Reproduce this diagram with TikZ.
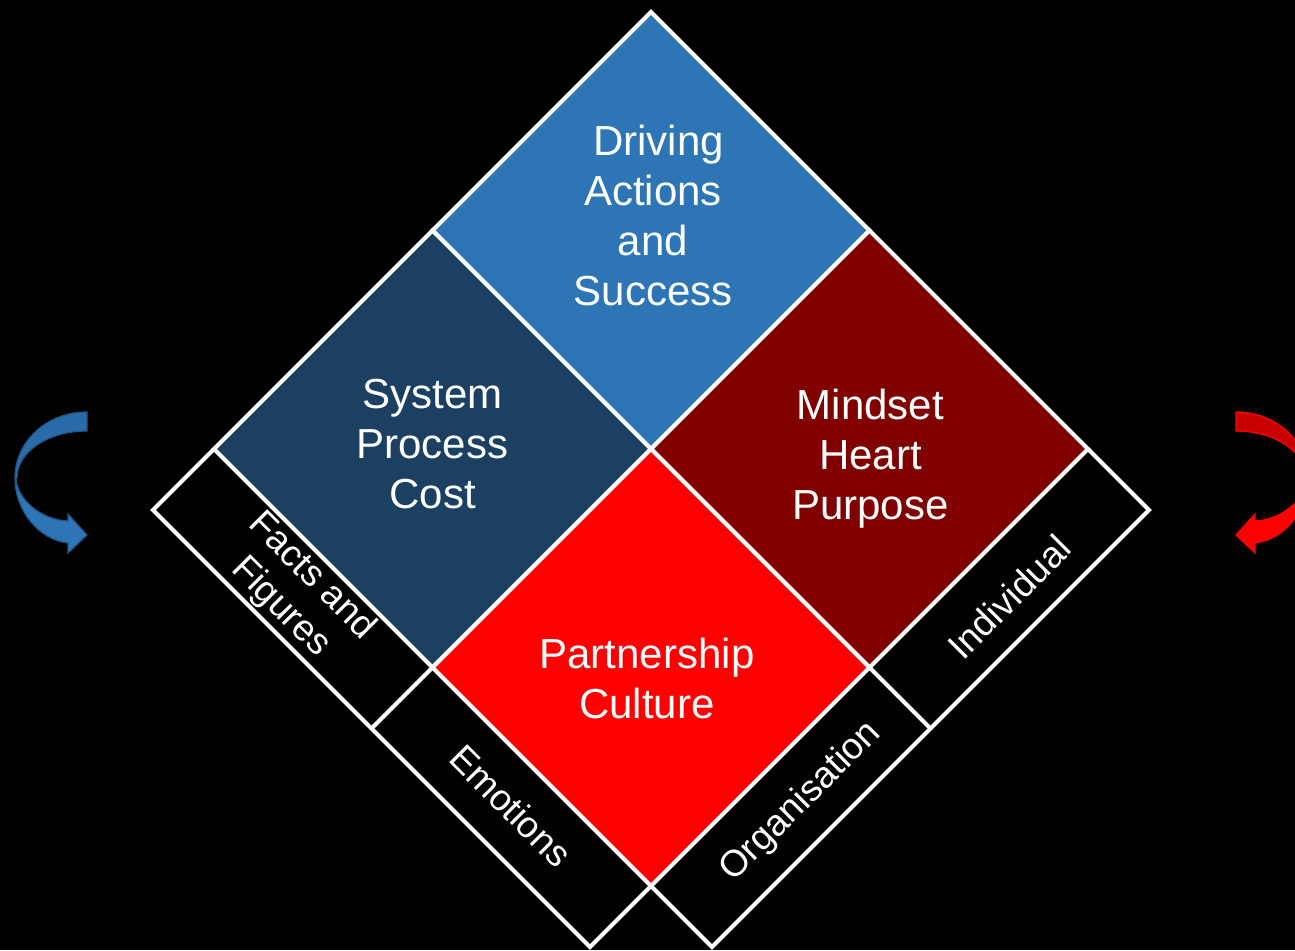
\documentclass[tikz,border=0pt]{standalone}
\usepackage{fontspec}
\setmainfont{Liberation Sans}
\definecolor{topblue}{RGB}{46,117,182}
\definecolor{darkblue}{RGB}{28,64,98}
\definecolor{maroonred}{RGB}{128,0,0}
\definecolor{brightred}{RGB}{255,0,0}
\definecolor{arrowblue}{RGB}{46,117,182}
\definecolor{arrowblueback}{RGB}{42,108,170}
\definecolor{arrowblueline}{RGB}{36,84,132}
\definecolor{arrowredback}{RGB}{200,0,0}
\tikzset{
  cell/.style={draw=white, line width=4pt, line join=miter},
  bandline/.style={draw=white, line width=4pt, line join=miter},
  lbl/.style={text=white, font=\fontsize{42}{50}\selectfont, align=center, inner sep=0pt},
  bandlbl/.style={text=white, font=\fontsize{37}{44}\selectfont, align=center, inner sep=0pt},
}
\begin{document}
\begin{tikzpicture}[x=1pt,y=-1pt]
\fill[black] (0,0) rectangle (1295,950);
\useasboundingbox (0,0) rectangle (1295,950);
% main grid points
\coordinate (T) at (651,12);
\coordinate (L) at (214,449);
\coordinate (R) at (1088,449);
\coordinate (B) at (651,886);
\coordinate (C) at (651,449);
\coordinate (TL) at (432.5,230.5);
\coordinate (TR) at (869.5,230.5);
\coordinate (BL) at (432.5,667.5);
\coordinate (BR) at (869.5,667.5);
% band outer points
\coordinate (Lo) at (153,510);
\coordinate (BLo) at (371.5,728.5);
\coordinate (Bo) at (590,947);
\coordinate (Ro) at (1149,510);
\coordinate (BRo) at (930.5,728.5);
\coordinate (Bo2) at (712,947);
% diamonds
\filldraw[cell, fill=topblue] (T) -- (TR) -- (C) -- (TL) -- cycle;
\filldraw[cell, fill=darkblue] (TL) -- (C) -- (BL) -- (L) -- cycle;
\filldraw[cell, fill=maroonred] (TR) -- (R) -- (BR) -- (C) -- cycle;
\filldraw[cell, fill=brightred] (C) -- (BR) -- (B) -- (BL) -- cycle;
% bands
\draw[bandline] (L) -- (Lo) -- (BLo) -- (Bo) -- (B);
\draw[bandline] (BL) -- (BLo);
\draw[bandline] (R) -- (Ro) -- (BRo) -- (Bo2) -- (B);
\draw[bandline] (BR) -- (BRo);
% texts (base anchor = baseline of the last line)
\node[lbl, anchor=base] (dr) at (653,305) {\hspace*{11pt}Driving\\Actions\\and\\Success};
\node[lbl, anchor=base] (sy) at (432.5,508) {System\\Process\\Cost};
\node[lbl, anchor=base] (mi) at (870.5,519) {Mindset\\Heart\\Purpose};
\node[lbl, anchor=base] (pa) at (647,718) {Partnership\\Culture};
% band labels
\node[bandlbl, rotate=-45] (ff) at (296,592) {Facts and\\Figures};
\node[bandlbl, rotate=-45] (em) at (511,806) {Emotions};
\node[bandlbl, rotate=45] (or) at (801,802) {Organisation};
\node[bandlbl, rotate=45] (in) at (1009,597) {Individual};
% blue curved arrow
\filldraw[fill=arrowblueback, draw=arrowblueline, line width=1.2pt]
  (87,412) .. controls (47,412) and (15,441) .. (15,478)
  -- (17,478) .. controls (17,452) and (48,431) .. (87,431) -- cycle;
\filldraw[fill=arrowblue, draw=arrowblueline, line width=1.2pt]
  (15,478) .. controls (15,512) and (40,540) .. (68,543)
  -- (68,553) -- (87,535) -- (68,514) -- (68,521)
  .. controls (42,520) and (17,500) .. (16,478) -- cycle;
% red curved arrow
\filldraw[fill=arrowredback, draw=brightred, line width=1.2pt]
  (1236,412) .. controls (1276,412) and (1308,441) .. (1308,478)
  -- (1306,478) .. controls (1306,452) and (1275,431) .. (1236,431) -- cycle;
\filldraw[fill=brightred, draw=brightred, line width=1.2pt]
  (1308,478) .. controls (1308,512) and (1283,540) .. (1255,543)
  -- (1255,553) -- (1236,535) -- (1255,514) -- (1255,521)
  .. controls (1281,520) and (1306,500) .. (1307,478) -- cycle;
\end{tikzpicture}
\end{document}
